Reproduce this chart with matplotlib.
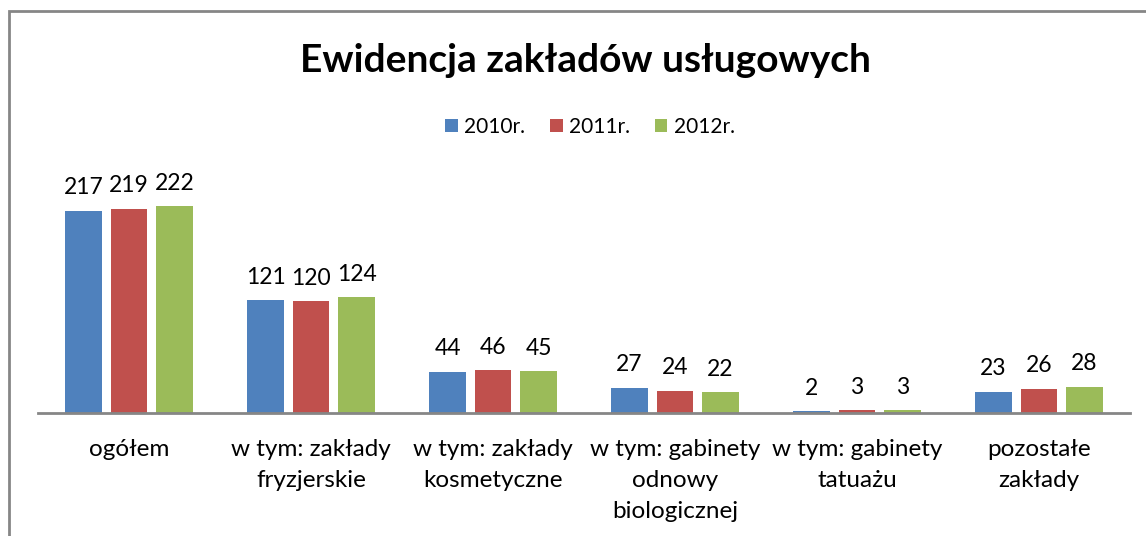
import numpy as np
import matplotlib.pyplot as plt
import matplotlib.patches as mpatches

categories = ['ogółem', 'w tym: zakłady\nfryzjerskie', 'w tym: zakłady\nkosmetyczne',
              'w tym: gabinety\nodnowy\nbiologicznej', 'w tym: gabinety\ntatuażu',
              'pozostałe\nzakłady']
v2010 = [217, 121, 44, 27, 2, 23]
v2011 = [219, 120, 46, 24, 3, 26]
v2012 = [222, 124, 45, 22, 3, 28]
series_names = ['2010r.', '2011r.', '2012r.']
colors = ['#4F81BD', '#C0504D', '#9BBB59']

plt.rcParams['font.family'] = ['Lato', 'DejaVu Sans']

W, H = 1146, 536
fig = plt.figure(figsize=(W / 100, H / 100), dpi=100)

# outer chart border (left and top visible)
fig.patches.append(mpatches.Rectangle((9 / W, -0.1), 1.2, (H - 11) / H + 0.1,
                                      transform=fig.transFigure, fill=False,
                                      edgecolor='#868686', linewidth=2))

ax = fig.add_axes([38 / W, (H - 413) / H, 1092 / W, 233 / H])
x = np.arange(len(categories))
bw = 0.198
step = 0.25
for i, (vals, name, c) in enumerate(zip([v2010, v2011, v2012], series_names, colors)):
    bars = ax.bar(x + (i - 1) * step, vals, bw, color=c, label=name)
    for b, v in zip(bars, vals):
        ax.annotate(str(v), (b.get_x() + b.get_width() / 2, v), xytext=(0, 9),
                    textcoords='offset points', ha='center', va='bottom',
                    fontsize=16.5, annotation_clip=False)

ax.set_xlim(-0.5, len(categories) - 0.5)
ax.set_ylim(0, 250)
ax.set_xticks(x)
ax.set_xticklabels(categories, fontsize=17.5, linespacing=1.58)
ax.tick_params(axis='x', length=0, pad=19)
ax.set_yticks([])
for s in ['top', 'right', 'left']:
    ax.spines[s].set_visible(False)
ax.spines['bottom'].set_color('#868686')
ax.spines['bottom'].set_linewidth(2)

fig.text(585 / W, (H - 60) / H, 'Ewidencja zakładów usługowych', ha='center', va='center',
         fontsize=28, fontweight='bold')
fig.legend(loc='center', bbox_to_anchor=(590 / W, (H - 127) / H), ncol=3, frameon=False,
           fontsize=15, handlelength=0.6, handleheight=0.6, handletextpad=0.3,
           columnspacing=1.2)

fig.savefig('out.png', dpi=100)
